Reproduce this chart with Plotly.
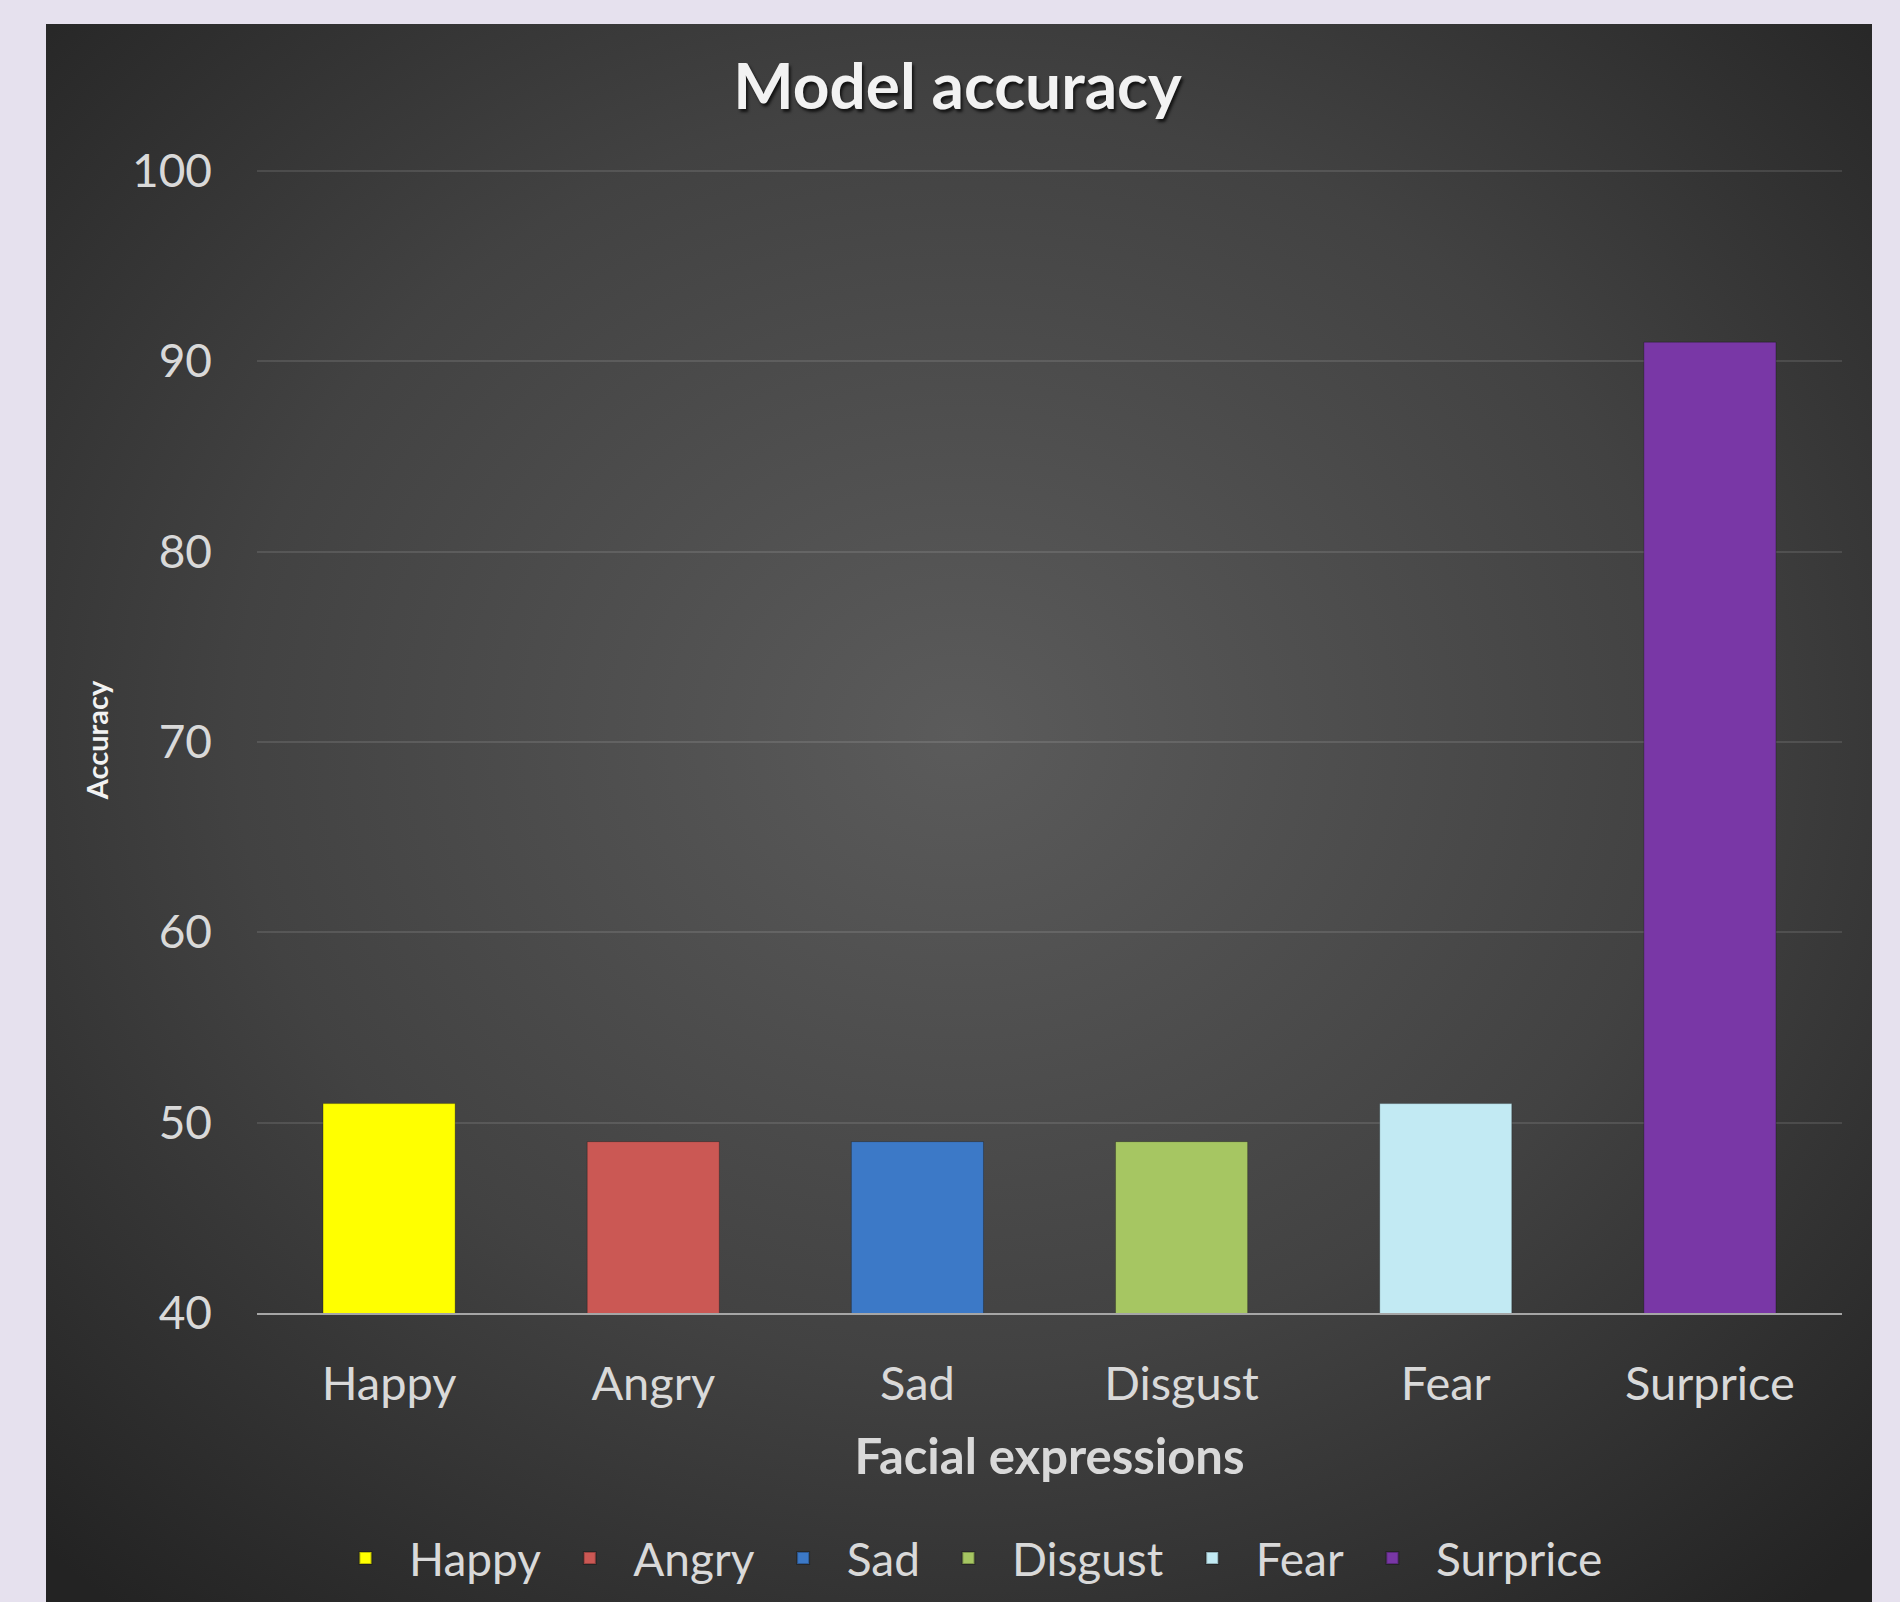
import base64
import plotly.graph_objects as go

# ---- data ----
categories = ["Happy", "Angry", "Sad", "Disgust", "Fear", "Surprice"]
accuracy = [51, 49, 49, 49, 51, 91]
colors = ["#FFFF00", "#CB5854", "#3C79C7", "#A6C662", "#C2EAF3", "#7937A6"]
y_ticks = [40, 50, 60, 70, 80, 90, 100]
y_range = [40, 100.2]

# ---- layout geometry (pixels) ----
W, H = 1900, 1602
L, R, T, B = 257, 58, 167, 289
pw, ph = W - L - R, H - T - B
panel = (46, 24, 1872, 1602)  # x0, y0, x1, y1


def px_to_paper_x(p):
    return (p - L) / pw


def px_to_paper_y(p):
    return (H - B - p) / ph


svg = (
    '<svg xmlns="http://www.w3.org/2000/svg" width="1000" height="1000" '
    'viewBox="0 0 1000 1000" preserveAspectRatio="none">'
    '<defs><radialGradient id="g" cx="0.5" cy="0.45" r="0.72">'
    '<stop offset="0" stop-color="#5b5b5b"/>'
    '<stop offset="0.55" stop-color="#424242"/>'
    '<stop offset="1" stop-color="#232323"/>'
    '</radialGradient></defs>'
    '<rect width="1000" height="1000" fill="url(#g)"/></svg>'
)
svg_uri = "data:image/svg+xml;base64," + base64.b64encode(svg.encode()).decode()

fig = go.Figure()
for cat, val, col in zip(categories, accuracy, colors):
    fig.add_trace(go.Bar(
        x=[cat], y=[val], name=cat,
        marker=dict(color=col, line=dict(color="rgba(0,0,0,0.25)", width=1)),
        width=0.5,
    ))

font_family = "Lato, 'Open Sans', sans-serif"
fig.update_layout(
    width=W, height=H,
    margin=dict(l=L, r=R, t=T, b=B, autoexpand=False),
    paper_bgcolor="#E6E1EE",
    plot_bgcolor="rgba(0,0,0,0)",
    barmode="overlay",
    font=dict(family=font_family, color="#D9D9D9"),
    title=dict(
        text="<b>Model accuracy</b>",
        x=(L + pw / 2 - 92) / W, xanchor="center",
        y=1 - 87 / H, yanchor="middle",
        font=dict(size=64, color="#F2F2F2", family=font_family,
                  shadow="2px 3px 3px rgba(0,0,0,0.7)"),
    ),
    xaxis=dict(
        categoryorder="array", categoryarray=categories,
        showgrid=False, showline=True, linecolor="#A6A6A6", linewidth=2,
        ticks="", tickfont=dict(size=47, color="#D9D9D9"),
        ticklabelstandoff=29,
        title=dict(text="<b>Facial expressions</b>", standoff=30,
                   font=dict(size=49, color="#D9D9D9", family=font_family)),
        automargin=False, fixedrange=True,
    ),
    yaxis=dict(
        range=y_range, tickvals=y_ticks,
        showgrid=True, gridcolor="rgba(255,255,255,0.11)", gridwidth=2,
        zeroline=False, showline=False, ticks="",
        tickfont=dict(size=46, color="#D9D9D9"),
        ticklabelstandoff=44,
        title=dict(text="<b>Accuracy</b>", standoff=14,
                   font=dict(size=29, color="#F2F2F2", family=font_family)),
        automargin=False, fixedrange=True,
    ),
    legend=dict(
        orientation="h", x=px_to_paper_x(965), xanchor="center",
        y=px_to_paper_y(1558), yanchor="middle",
        font=dict(size=46, color="#D9D9D9"), bgcolor="rgba(0,0,0,0)",
        itemsizing="constant", itemwidth=77,
    ),
    images=[dict(
        source=svg_uri, xref="paper", yref="paper",
        x=px_to_paper_x(panel[0]), y=px_to_paper_y(panel[1]),
        sizex=(panel[2] - panel[0]) / pw, sizey=(panel[3] - panel[1]) / ph,
        sizing="stretch", xanchor="left", yanchor="top", layer="below",
    )],
    showlegend=True,
)

fig.write_html("out.html")
